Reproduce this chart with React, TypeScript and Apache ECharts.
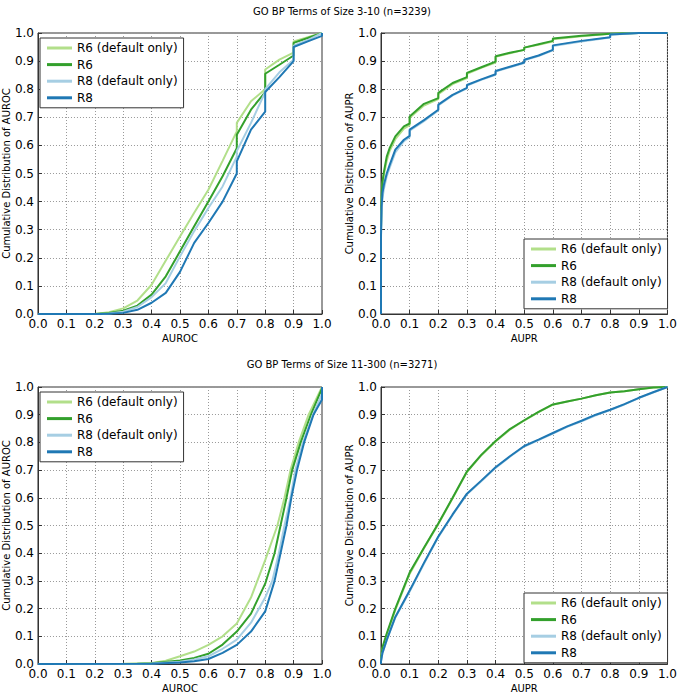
import React, { useEffect, useRef } from "react";
import * as echarts from "echarts";

type Pt = [number, number];

const seriesNames = ["R6 (default only)", "R6", "R8 (default only)", "R8"];
const seriesColors = ["#b2df8a", "#33a02c", "#a6cee3", "#1f78b4"];
const panelTitles = ["GO BP Terms of Size 3-10 (n=3239)", "GO BP Terms of Size 11-300 (n=3271)"];
const xNames = ["AUROC", "AUPR", "AUROC", "AUPR"];
const yNames = [
  "Cumulative Distribution of AUROC",
  "Cumulative Distribution of AUPR",
  "Cumulative Distribution of AUROC",
  "Cumulative Distribution of AUPR",
];

// Panel 1: AUROC, size 3-10
const aurocSmallR6Default: Pt[] = [[0,0],[0.2,0],[0.25,0.006],[0.3,0.02],[0.35,0.048],[0.4,0.104],[0.45,0.19],[0.5,0.276],[0.55,0.36],[0.6,0.442],[0.65,0.545],[0.7,0.65],[0.7,0.68],[0.75,0.757],[0.8,0.8],[0.8,0.87],[0.85,0.905],[0.9,0.93],[0.9,0.97],[0.95,0.985],[1,1]];
const aurocSmallR6: Pt[] = [[0,0],[0.2,0],[0.25,0.004],[0.3,0.012],[0.35,0.03],[0.4,0.069],[0.45,0.134],[0.5,0.223],[0.55,0.312],[0.6,0.4],[0.65,0.49],[0.7,0.59],[0.7,0.638],[0.75,0.727],[0.8,0.79],[0.8,0.855],[0.85,0.887],[0.9,0.92],[0.9,0.965],[0.95,0.982],[1,1]];
const aurocSmallR8Default: Pt[] = [[0,0],[0.22,0],[0.25,0.002],[0.3,0.008],[0.35,0.025],[0.4,0.06],[0.45,0.11],[0.5,0.205],[0.55,0.295],[0.6,0.377],[0.65,0.454],[0.7,0.56],[0.7,0.58],[0.75,0.68],[0.8,0.79],[0.8,0.8],[0.85,0.86],[0.9,0.905],[0.9,0.955],[0.95,0.975],[1,1]];
const aurocSmallR8: Pt[] = [[0,0],[0.22,0],[0.25,0.001],[0.3,0.004],[0.35,0.015],[0.4,0.04],[0.45,0.075],[0.5,0.15],[0.55,0.253],[0.6,0.324],[0.65,0.4],[0.7,0.5],[0.7,0.543],[0.75,0.656],[0.8,0.72],[0.8,0.79],[0.85,0.843],[0.9,0.9],[0.9,0.95],[0.95,0.97],[1,0.99],[1,1]];

// Panel 2: AUPR, size 3-10
const auprSmallR6Default: Pt[] = [[0,0],[0,0.3],[0.002,0.41],[0.005,0.46],[0.01,0.495],[0.02,0.545],[0.03,0.58],[0.05,0.622],[0.08,0.66],[0.1,0.672],[0.1,0.698],[0.15,0.742],[0.2,0.765],[0.2,0.782],[0.25,0.818],[0.3,0.84],[0.3,0.855],[0.35,0.876],[0.4,0.895],[0.4,0.915],[0.45,0.928],[0.5,0.94],[0.5,0.948],[0.55,0.958],[0.6,0.97],[0.6,0.978],[0.7,0.988],[0.8,0.997],[0.9,1],[1,1]];
const auprSmallR6: Pt[] = [[0,0],[0,0.3],[0.002,0.42],[0.005,0.47],[0.01,0.505],[0.02,0.56],[0.03,0.59],[0.05,0.632],[0.08,0.668],[0.1,0.678],[0.1,0.703],[0.15,0.748],[0.2,0.768],[0.2,0.787],[0.25,0.822],[0.3,0.843],[0.3,0.858],[0.35,0.878],[0.4,0.898],[0.4,0.917],[0.45,0.93],[0.5,0.94],[0.5,0.948],[0.55,0.96],[0.6,0.972],[0.6,0.98],[0.7,0.99],[0.8,0.997],[0.9,1],[1,1]];
const auprSmallR8Default: Pt[] = [[0,0],[0,0.27],[0.002,0.36],[0.005,0.41],[0.01,0.445],[0.02,0.49],[0.03,0.52],[0.05,0.575],[0.08,0.615],[0.1,0.63],[0.1,0.652],[0.15,0.686],[0.2,0.724],[0.2,0.742],[0.25,0.778],[0.3,0.803],[0.3,0.813],[0.35,0.833],[0.4,0.851],[0.4,0.863],[0.45,0.878],[0.5,0.893],[0.5,0.903],[0.55,0.918],[0.6,0.938],[0.6,0.954],[0.7,0.97],[0.8,0.984],[0.8,0.994],[0.9,1],[1,1]];
const auprSmallR8: Pt[] = [[0,0],[0,0.28],[0.002,0.38],[0.005,0.43],[0.01,0.46],[0.02,0.5],[0.03,0.53],[0.05,0.585],[0.08,0.62],[0.1,0.634],[0.1,0.656],[0.15,0.69],[0.2,0.727],[0.2,0.745],[0.25,0.78],[0.3,0.805],[0.3,0.815],[0.35,0.835],[0.4,0.853],[0.4,0.865],[0.45,0.88],[0.5,0.895],[0.5,0.905],[0.55,0.92],[0.6,0.94],[0.6,0.956],[0.7,0.972],[0.8,0.985],[0.8,0.995],[0.9,1],[1,1]];

// Panel 3: AUROC, size 11-300
const aurocLargeR6Default: Pt[] = [[0,0],[0.3,0.001],[0.4,0.004],[0.45,0.012],[0.5,0.028],[0.55,0.045],[0.6,0.069],[0.65,0.1],[0.7,0.146],[0.75,0.24],[0.8,0.375],[0.843,0.5],[0.868,0.6],[0.889,0.7],[0.918,0.8],[0.953,0.9],[1,1]];
const aurocLargeR6: Pt[] = [[0,0],[0.35,0.001],[0.4,0.003],[0.5,0.013],[0.55,0.022],[0.6,0.037],[0.65,0.07],[0.7,0.117],[0.75,0.182],[0.8,0.29],[0.833,0.4],[0.854,0.5],[0.875,0.6],[0.895,0.7],[0.925,0.8],[0.961,0.9],[1,0.995],[1,1]];
const aurocLargeR8Default: Pt[] = [[0,0],[0.35,0.001],[0.4,0.002],[0.5,0.008],[0.55,0.016],[0.6,0.028],[0.65,0.055],[0.7,0.088],[0.75,0.149],[0.8,0.24],[0.825,0.3],[0.848,0.4],[0.868,0.5],[0.889,0.6],[0.906,0.7],[0.933,0.8],[0.968,0.9],[1,0.975],[1,1]];
const aurocLargeR8: Pt[] = [[0,0],[0.4,0.001],[0.5,0.005],[0.55,0.01],[0.6,0.018],[0.65,0.04],[0.7,0.069],[0.75,0.117],[0.8,0.19],[0.833,0.3],[0.854,0.4],[0.875,0.5],[0.892,0.6],[0.912,0.7],[0.937,0.8],[0.97,0.9],[1,0.955],[1,1]];

// Panel 4: AUPR, size 11-300
const auprLargeR6Default: Pt[] = [[0,0],[0,0.02],[0.005,0.055],[0.02,0.105],[0.05,0.195],[0.1,0.325],[0.15,0.418],[0.2,0.505],[0.25,0.598],[0.3,0.693],[0.35,0.753],[0.4,0.803],[0.45,0.846],[0.5,0.879],[0.55,0.909],[0.6,0.936],[0.65,0.948],[0.7,0.958],[0.75,0.97],[0.8,0.98],[0.85,0.985],[0.9,0.992],[0.95,0.998],[1,1]];
const auprLargeR6: Pt[] = [[0,0],[0,0.02],[0.005,0.06],[0.02,0.11],[0.05,0.2],[0.1,0.33],[0.15,0.42],[0.2,0.507],[0.25,0.6],[0.3,0.695],[0.35,0.755],[0.4,0.805],[0.45,0.848],[0.5,0.88],[0.55,0.91],[0.6,0.937],[0.65,0.948],[0.7,0.958],[0.75,0.97],[0.8,0.98],[0.85,0.985],[0.9,0.992],[0.95,0.998],[1,1]];
const auprLargeR8Default: Pt[] = [[0,0],[0,0.01],[0.005,0.038],[0.02,0.085],[0.05,0.168],[0.1,0.262],[0.15,0.362],[0.2,0.458],[0.25,0.538],[0.3,0.613],[0.35,0.66],[0.4,0.708],[0.45,0.748],[0.5,0.785],[0.55,0.808],[0.6,0.832],[0.65,0.856],[0.7,0.876],[0.75,0.898],[0.8,0.917],[0.85,0.937],[0.9,0.96],[0.95,0.98],[1,1]];
const auprLargeR8: Pt[] = [[0,0],[0,0.01],[0.005,0.04],[0.02,0.087],[0.05,0.17],[0.1,0.265],[0.15,0.365],[0.2,0.46],[0.25,0.54],[0.3,0.615],[0.35,0.662],[0.4,0.71],[0.45,0.75],[0.5,0.787],[0.55,0.81],[0.6,0.834],[0.65,0.858],[0.7,0.878],[0.75,0.9],[0.8,0.918],[0.85,0.938],[0.9,0.961],[0.95,0.981],[1,1]];

const panelData: Pt[][][] = [
  [aurocSmallR6Default, aurocSmallR6, aurocSmallR8Default, aurocSmallR8],
  [auprSmallR6Default, auprSmallR6, auprSmallR8Default, auprSmallR8],
  [aurocLargeR6Default, aurocLargeR6, aurocLargeR8Default, aurocLargeR8],
  [auprLargeR6Default, auprLargeR6, auprLargeR8Default, auprLargeR8],
];

const FONT = "DejaVu Sans";

export default function App() {
  const ref = useRef<HTMLDivElement>(null);
  useEffect(() => {
    if (!ref.current) return;
    const chart = echarts.init(ref.current, null, { renderer: "svg" });
    const grids = [
      { left: 34, top: 33, width: 288, height: 281 },
      { left: 381, top: 33, width: 289, height: 281 },
      { left: 34, top: 387, width: 288, height: 281 },
      { left: 381, top: 387, width: 289, height: 281 },
    ];
    const legendPos = [
      { left: 40, top: 38 },
      { left: 524, top: 239 },
      { left: 40, top: 392 },
      { left: 524, top: 593 },
    ];
    const axisCommon = {
      type: "value" as const,
      min: 0,
      max: 1,
      interval: 0.1,
      nameLocation: "middle" as const,
      nameTextStyle: { fontSize: 10, color: "#000", fontFamily: FONT },
      axisLine: { show: true, lineStyle: { color: "#333", width: 1 } },
      axisTick: { show: true, inside: true, length: 4, lineStyle: { color: "#333" } },
      axisLabel: {
        fontSize: 12,
        color: "#000",
        fontFamily: FONT,
        formatter: (v: number) => v.toFixed(1),
      },
      splitLine: { show: true, lineStyle: { color: "#999", width: 1, type: [1, 2] } },
    };
    const series: any[] = [];
    panelData.forEach((group, g) => {
      group.forEach((d, i) => {
        series.push({
          type: "line",
          name: seriesNames[i],
          xAxisIndex: g,
          yAxisIndex: g,
          data: d,
          symbol: "none",
          showSymbol: false,
          lineStyle: { color: seriesColors[i], width: 2 },
          itemStyle: { color: seriesColors[i] },
          z: 3 + i,
        });
      });
    });
    chart.setOption({
      animation: false,
      backgroundColor: "#fff",
      textStyle: { fontFamily: FONT },
      grid: grids.map((g) => ({ ...g, show: true, borderColor: "#333", borderWidth: 1, backgroundColor: "transparent" })),
      xAxis: grids.map((_, g) => ({
        ...axisCommon,
        gridIndex: g,
        name: xNames[g],
        nameGap: 19,
        axisLabel: { ...axisCommon.axisLabel, margin: 4 },
      })),
      yAxis: grids.map((_, g) => ({
        ...axisCommon,
        gridIndex: g,
        name: yNames[g],
        nameGap: 26,
        axisLabel: { ...axisCommon.axisLabel, margin: 4 },
      })),
      legend: legendPos.map((p) => ({
        ...p,
        orient: "vertical",
        data: seriesNames.map((n) => ({ name: n, icon: "rect" })),
        selectedMode: false,
        itemWidth: 25,
        itemHeight: 3,
        itemGap: 4.6,
        padding: [4, 6, 4, 7],
        borderColor: "#333",
        borderWidth: 1,
        backgroundColor: "#fff",
        textStyle: { fontSize: 12, color: "#000", fontFamily: FONT },
      })),
      graphic: [
        {
          type: "text",
          x: 342,
          y: 11,
          style: { text: panelTitles[0], fontSize: 10, fontFamily: FONT, fill: "#000", align: "center", verticalAlign: "middle" },
        },
        {
          type: "text",
          x: 342,
          y: 364,
          style: { text: panelTitles[1], fontSize: 10, fontFamily: FONT, fill: "#000", align: "center", verticalAlign: "middle" },
        },
      ],
      series,
    });
    return () => chart.dispose();
  }, []);
  return <div ref={ref} style={{ position: "fixed", left: 0, top: 0, width: 680, height: 694 }} />;
}
